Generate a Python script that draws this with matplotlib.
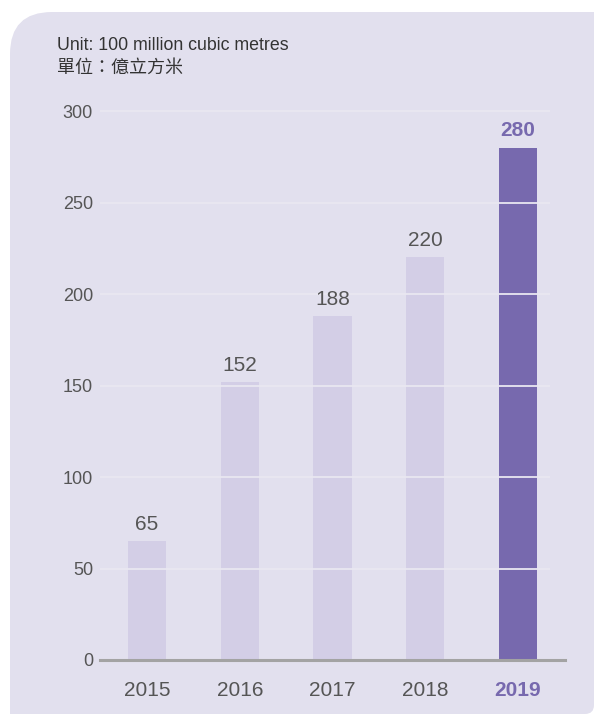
import matplotlib
matplotlib.use('Agg')
import matplotlib.pyplot as plt
from matplotlib.path import Path
from matplotlib.patches import PathPatch

plt.rcParams['font.family'] = ['Liberation Sans', 'Noto Sans CJK TC', 'DejaVu Sans']

years = ['2015', '2016', '2017', '2018', '2019']
values = [65, 152, 188, 220, 280]
yticks = [0, 50, 100, 150, 200, 250, 300]

bg = '#e2e0ee'
light_bar = '#d3cee6'
dark_bar = '#7769ae'
grid_col = '#e9e7f1'
text_col = '#555555'

W, H = 595, 715
fig = plt.figure(figsize=(W / 100, H / 100), dpi=100)
fig.patch.set_facecolor('white')

# panel: big rounded top-left corner, small rounded bottom-right corner (pixel coords, y up)
L, R, B, T = 10, 594, 1, 703
r1, r2 = 42, 9
verts = [(L, B), (R - r2, B), (R, B), (R, B + r2), (R, T), (L + r1, T),
         (L, T), (L, T - r1), (L, B)]
codes = [Path.MOVETO, Path.LINETO, Path.CURVE3, Path.CURVE3, Path.LINETO,
         Path.LINETO, Path.CURVE3, Path.CURVE3, Path.CLOSEPOLY]
verts = [(vx / W, vy / H) for vx, vy in verts]
panel = PathPatch(Path(verts, codes), transform=fig.transFigure,
                  facecolor=bg, edgecolor='none', zorder=-5)
fig.patches.append(panel)

ax = fig.add_axes([100 / W, 1 - 660 / H, 465 / W, (660 - 111) / H])
ax.set_facecolor('none')
ax.set_zorder(1)

x = list(range(len(years)))
colors = [light_bar] * (len(years) - 1) + [dark_bar]
ax.bar(x, values, width=0.41, color=colors, zorder=2)

x0, x1 = -0.507, 4.507
ax.set_xlim(x0, x1)
ax.set_ylim(0, 300)

# gridlines over the bars
ax.hlines(yticks[1:], x0, 4.345, colors=grid_col, lw=1.3, zorder=3, clip_on=False)
ax.axhline(0, color='#a3a3a3', lw=2.2, zorder=4, clip_on=False)

for s in ax.spines.values():
    s.set_visible(False)

ax.set_yticks(yticks)
ax.set_yticklabels([str(t) for t in yticks])
ax.tick_params(axis='y', length=0, pad=5, labelsize=13, labelcolor=text_col)
ax.set_xticks(x)
ax.set_xticklabels(years)
ax.tick_params(axis='x', length=0, pad=15, labelsize=15, labelcolor=text_col)
last = ax.get_xticklabels()[-1]
last.set_color(dark_bar)
last.set_fontweight('bold')

for i, v in enumerate(values):
    if i == len(values) - 1:
        ax.text(i, v + 4, str(v), ha='center', va='bottom', fontsize=15,
                color=dark_bar, fontweight='bold', zorder=5)
    else:
        ax.text(i, v + 4, str(v), ha='center', va='bottom', fontsize=15,
                color=text_col, zorder=5)

fig.text(57 / W, 1 - 45 / H, 'Unit: 100 million cubic metres', fontsize=12.8,
         color='#333333', va='center', ha='left')
fig.text(57 / W, 1 - 68 / H, '單位：億立方米', fontsize=13,
         color='#333333', va='center', ha='left')

fig.savefig('out.png', dpi=100)
